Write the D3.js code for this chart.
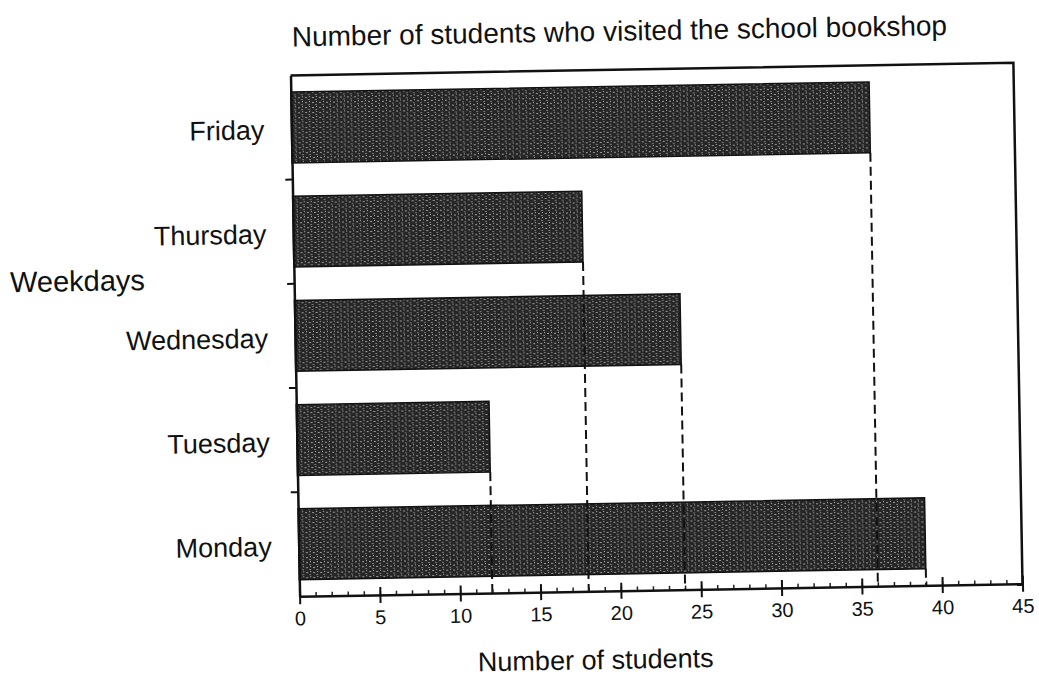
<!DOCTYPE html>
<html>
<head>
<meta charset="utf-8">
<script src="https://cdn.jsdelivr.net/npm/d3@7"></script>
<style>
  html, body { margin: 0; padding: 0; background: #fff; }
  svg { display: block; }
  text { font-family: "Liberation Sans", Arial, sans-serif; fill: #111; }
</style>
</head>
<body>
<svg id="chart" width="1039" height="680"></svg>
<script>
// ---- data ----
const categories = ["Monday", "Tuesday", "Wednesday", "Thursday", "Friday"];
const values = [39, 12, 24, 18, 36];
const xTickValues = [0, 5, 10, 15, 20, 25, 30, 35, 40, 45];
const minorTickValues = d3.range(0, 46);
const titleText = "Number of students who visited the school bookshop";
const xLabelText = "Number of students";
const yLabelText = "Weekdays";

// ---- layout ----
const W = 1039, H = 680;
const plot = { left: 295, right: 1018, top: 69, bottom: 590 };

const svg = d3.select("#chart");
const defs = svg.append("defs");
const pat = defs.append("pattern")
  .attr("id", "tex").attr("width", 7).attr("height", 5)
  .attr("patternUnits", "userSpaceOnUse");
pat.append("rect").attr("width", 7).attr("height", 5).attr("fill", "#262626");
pat.append("rect").attr("x", 1).attr("y", 1).attr("width", 2).attr("height", 1).attr("fill", "#9c9c9c");
pat.append("rect").attr("x", 4).attr("y", 3).attr("width", 2).attr("height", 1).attr("fill", "#7c7c7c");
pat.append("rect").attr("x", 5).attr("y", 0).attr("width", 1).attr("height", 1).attr("fill", "#b5b5b5");

svg.append("rect").attr("width", W).attr("height", H).attr("fill", "#fff");

// the scanned page is slightly tilted
const g = svg.append("g").attr("transform", "rotate(-1, 660, 330)");

const x = d3.scaleLinear().domain([0, 45]).range([plot.left, plot.right]);
const y = d3.scaleBand()
  .domain(categories.slice().reverse())
  .range([plot.top, plot.bottom])
  .paddingInner(0.32)
  .paddingOuter(0.16);

const data = categories.map((c, i) => ({ day: c, value: values[i] }));

// frame (top and right)
g.append("path")
  .attr("d", `M${plot.left},${plot.top}H${plot.right}V${plot.bottom}`)
  .attr("fill", "none").attr("stroke", "#111").attr("stroke-width", 2.5);

// bars
g.append("g").selectAll("rect").data(data).join("rect")
  .attr("x", x(0))
  .attr("y", d => y(d.day))
  .attr("width", d => x(d.value) - x(0))
  .attr("height", y.bandwidth())
  .attr("fill", "url(#tex)")
  .attr("stroke", "#111").attr("stroke-width", 1.5);

// dashed drop lines
g.append("g").selectAll("line").data(data).join("line")
  .attr("x1", d => x(d.value)).attr("x2", d => x(d.value))
  .attr("y1", d => y(d.day) + y.bandwidth())
  .attr("y2", plot.bottom)
  .attr("stroke", "#111").attr("stroke-width", 2)
  .attr("stroke-dasharray", "9,5");

// minor x ticks
g.append("g")
  .attr("transform", `translate(0,${plot.bottom})`)
  .call(d3.axisBottom(x).tickValues(minorTickValues).tickSize(-4).tickFormat(""))
  .call(s => s.select(".domain").remove())
  .call(s => s.selectAll(".tick line").attr("stroke", "#222").attr("stroke-width", 1.5));

// major x axis
const xAxis = g.append("g")
  .attr("transform", `translate(0,${plot.bottom})`)
  .call(d3.axisBottom(x).tickValues(xTickValues).tickSize(8).tickPadding(7).tickSizeOuter(0));
xAxis.select(".domain").attr("stroke", "#111").attr("stroke-width", 2.5);
xAxis.selectAll(".tick line").attr("y1", -8).attr("stroke", "#111").attr("stroke-width", 2);
xAxis.selectAll(".tick text")
  .style("font-family", '"Liberation Sans", Arial, sans-serif')
  .style("font-size", "20px").attr("fill", "#111");

// y axis (labels at band centres)
const yAxis = g.append("g")
  .attr("transform", `translate(${plot.left},0)`)
  .call(d3.axisLeft(y).tickSize(0).tickPadding(27).tickSizeOuter(0));
yAxis.select(".domain").attr("stroke", "#111").attr("stroke-width", 2.5);
yAxis.selectAll(".tick text")
  .style("font-family", '"Liberation Sans", Arial, sans-serif')
  .style("font-size", "27px").attr("fill", "#111").attr("dy", "0.42em");

// boundary ticks on the y axis
const boundaries = y.domain().slice(1).map(d => y(d) - y.step() * y.paddingInner() / 2);
g.append("g").selectAll("line").data(boundaries).join("line")
  .attr("x1", plot.left - 7).attr("x2", plot.left)
  .attr("y1", d => d).attr("y2", d => d)
  .attr("stroke", "#111").attr("stroke-width", 2);

// title and axis labels
g.append("text")
  .attr("x", 297).attr("y", 40)
  .style("font-size", "28px")
  .text(titleText);

g.append("text")
  .attr("x", 590).attr("y", 668)
  .attr("text-anchor", "middle")
  .style("font-size", "27px")
  .text(xLabelText);

g.append("text")
  .attr("x", 11).attr("y", 281)
  .style("font-size", "29px")
  .text(yLabelText);
</script>
</body>
</html>
